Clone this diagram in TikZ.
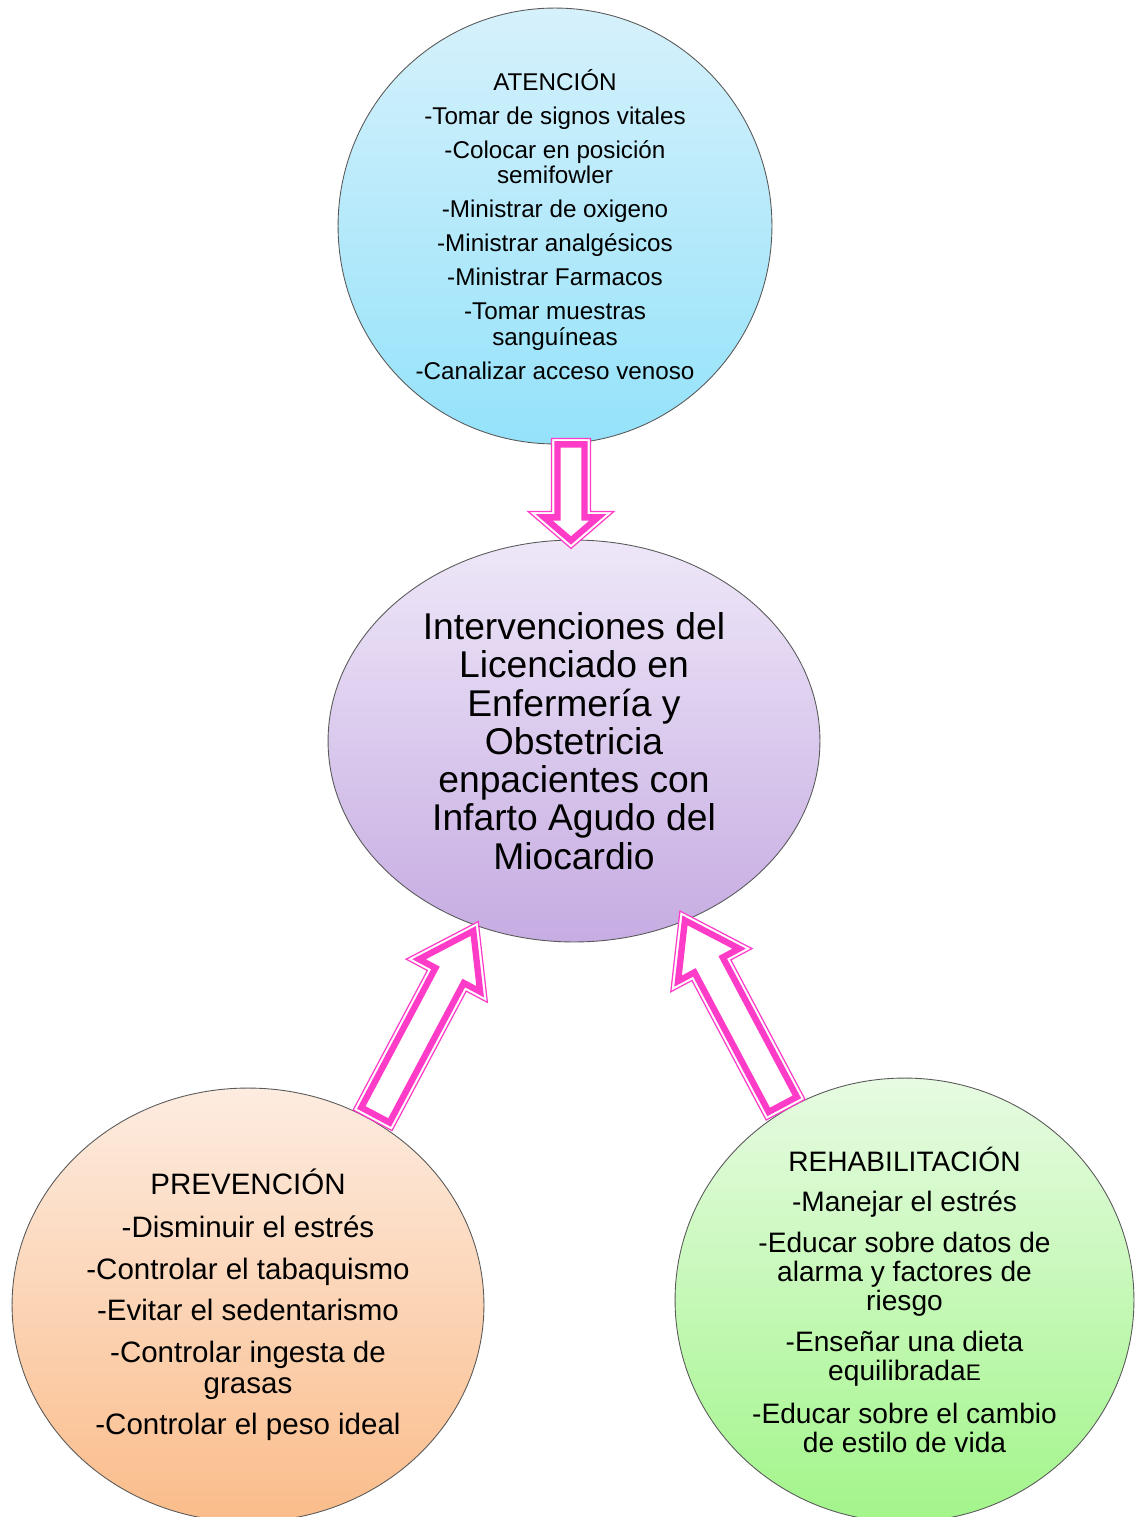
\documentclass[tikz,border=0pt]{standalone}
\usepackage{fontspec}
\setmainfont{Liberation Sans}
\usetikzlibrary{shapes.geometric}
\definecolor{arrowpink}{RGB}{255,60,200}
\definecolor{atentop}{RGB}{214,241,251}
\definecolor{atenbot}{RGB}{148,226,250}
\definecolor{mainttop}{RGB}{238,231,248}
\definecolor{maintbot}{RGB}{198,172,226}
\definecolor{preventop}{RGB}{253,236,224}
\definecolor{prevenbot}{RGB}{250,188,138}
\definecolor{rehabtop}{RGB}{231,251,226}
\definecolor{rehabbot}{RGB}{162,245,138}
\tikzset{
  bubble/.style={ellipse, draw=gray!70!black, line width=0.5pt, inner sep=0pt},
  txt/.style={align=center, inner sep=0pt, text=black},
  pics/hollow/.style n args={4}{code={
    \pgfmathsetmacro\hback{#1-#4}
    \pgfmathsetmacro\tipin{6/sin(atan(#3/#4))}
    \pgfmathsetmacro\hin{(#4-\tipin-6)*#3/#4}
    \draw[arrowpink, line width=0.7pt, fill=white, line join=miter]
      (0,-#2) -- (\hback,-#2) -- (\hback,-#3) -- (#1,0) -- (\hback,#3) -- (\hback,#2) -- (0,#2) -- cycle;
    \draw[arrowpink, line width=3.6pt, line join=miter]
      (6,6-#2) -- (\hback+6,6-#2) -- (\hback+6,-\hin) -- (#1-\tipin,0) -- (\hback+6,\hin) -- (\hback+6,#2-6) -- (6,#2-6) -- cycle;
  }}
}

\begin{document}
\begin{tikzpicture}[x=0.02cm, y=0.02cm]
\path[use as bounding box, clip] (0,0) rectangle (1142,-1517);

\node[bubble, minimum width=8.68cm, minimum height=8.72cm, top color=atentop, bottom color=atenbot] (aten) at (555,-226) {};
\node[bubble, minimum width=9.84cm, minimum height=8.04cm, top color=mainttop, bottom color=maintbot] (maint) at (574,-741) {};
\node[bubble, minimum width=9.44cm, minimum height=8.68cm, top color=preventop, bottom color=prevenbot] (preven) at (248,-1305) {};
\node[bubble, minimum width=9.18cm, minimum height=8.88cm, top color=rehabtop, bottom color=rehabbot] (rehab) at (904.5,-1300) {};

\node[txt, font=\fontsize{13.8}{14.4}\selectfont] (atentxt) at ([yshift=1pt]aten) {ATENCIÓN\\[5pt]
  -Tomar de signos vitales\\[5pt]
  -Colocar en posición\\semifowler\\[5pt]
  -Ministrar de oxigeno\\[5pt]
  -Ministrar analgésicos\\[5pt]
  -Ministrar Farmacos\\[5pt]
  -Tomar muestras\\sanguíneas\\[5pt]
  -Canalizar acceso venoso};
\node[txt, font=\fontsize{21.2}{21.8}\selectfont] (mainttxt) at (maint) {Intervenciones del\\Licenciado en\\Enfermería y\\Obstetricia\\enpacientes con\\Infarto Agudo del\\Miocardio};
\node[txt, font=\fontsize{16.8}{17.6}\selectfont] (preventxt) at (preven) {PREVENCIÓN\\[7pt]
  -Disminuir el estrés\\[6pt]
  -Controlar el tabaquismo\\[6pt]
  -Evitar el sedentarismo\\[6pt]
  -Controlar ingesta de\\grasas\\[6pt]
  -Controlar el peso ideal};
\node[txt, font=\fontsize{16}{16.4}\selectfont] (rehabtxt) at (rehab) {REHABILITACIÓN\\[6.4pt]
  -Manejar el estrés\\[7pt]
  -Educar sobre datos de\\alarma y factores de\\riesgo\\[7pt]
  -Enseñar una dieta\\equilibrada{\fontsize{12.8}{16.4}\selectfont E}\\[8.4pt]
  -Educar sobre el cambio\\de estilo de vida};

\coordinate (t1) at ([shift={(16,6)}]aten.-90);
\coordinate (t2) at (preven.56);
\coordinate (t3) at (rehab.122);
\pic[rotate=-90] at (t1) {hollow={110}{19.5}{43}{37}};
\pic[rotate=62] at (t2) {hollow={225}{22}{46}{67}};
\pic[rotate=118] at (t3) {hollow={225}{22}{46}{67}};
\end{tikzpicture}
\end{document}
